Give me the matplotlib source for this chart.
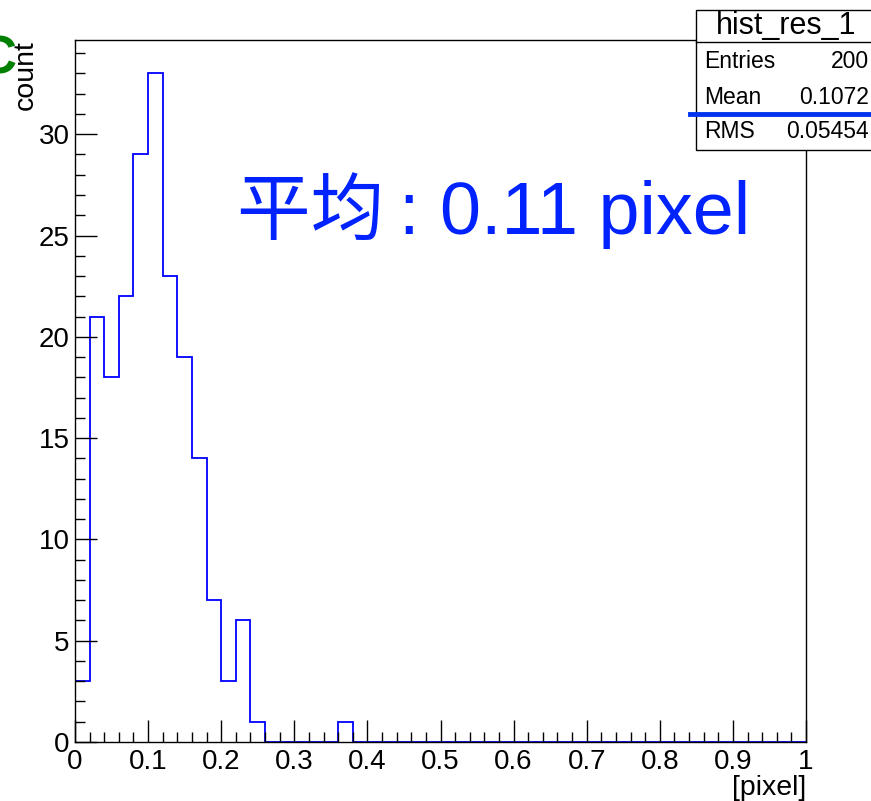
import matplotlib
matplotlib.use("Agg")
import matplotlib.pyplot as plt
import numpy as np
from matplotlib.ticker import MultipleLocator, FuncFormatter

# histogram contents, 50 bins of width 0.02 on [0, 1]
bin_lo = 0.0
bin_hi = 1.0
n_bins = 50
counts = [3, 21, 18, 22, 29, 33, 23, 19, 14, 7, 3, 6, 1, 0, 0, 0, 0, 0, 1] + [0] * 31

hist_name = "hist_res_1"
stat_names = ["Entries", "Mean", "RMS"]
stat_values = ["200", "0.1072", "0.05454"]
note = "平均\u2009: " + "0.11 pixel"

plt.rcParams['font.family'] = ['Liberation Sans', 'Noto Sans CJK SC', 'DejaVu Sans']

fig = plt.figure(figsize=(8.71, 8.01), dpi=100)
ax = fig.add_axes([75/871, 59/801, 731/871, 702/801])

edges = np.linspace(bin_lo, bin_hi, n_bins + 1)
ax.stairs(counts, edges, color='#0000ff', lw=1.3, baseline=0)

ax.set_xlim(0, 1)
ax.set_ylim(0, max(counts) * 1.05)

ax.xaxis.set_major_locator(MultipleLocator(0.1))
ax.xaxis.set_minor_locator(MultipleLocator(0.02))
ax.yaxis.set_major_locator(MultipleLocator(5))
ax.yaxis.set_minor_locator(MultipleLocator(1))
ax.xaxis.set_major_formatter(FuncFormatter(lambda v, p: f"{v:g}"))
ax.tick_params(which='both', direction='in', top=False, right=False, labelsize=20)
ax.tick_params(which='major', length=15.5, width=1)
ax.tick_params(which='minor', length=7.5, width=1)
ax.tick_params(axis='x', pad=5)
ax.tick_params(axis='y', pad=4)
for s in ax.spines.values():
    s.set_linewidth(1)

ax.set_xlabel("[pixel]", loc='right', fontsize=20.5, labelpad=0)
ax.set_ylabel("count", loc='top', fontsize=20.5)
ax.yaxis.set_label_coords(-0.049, 1.0)

ax.text(0.222, 0.757, note, transform=ax.transAxes, fontsize=53,
        color='#0022ff', va='center', ha='left')

# stats box
bx0, by0, bx1, by1 = 696/871, 1 - 150/801, 1.01, 1 - 10/801
box = plt.Rectangle((bx0, by0), bx1 - bx0, by1 - by0, transform=fig.transFigure,
                    facecolor='white', edgecolor='black', lw=1, zorder=5)
fig.patches.append(box)
fig.add_artist(plt.Line2D([bx0, 1], [1 - 42/801] * 2, color='black', lw=1, zorder=6))
fig.text((bx0 + 1) / 2 + 0.003, 1 - 26/801, hist_name, ha='center', va='center', fontsize=22, zorder=7)
rows_y = [62, 97, 132]
for name, val, yy in zip(stat_names, stat_values, rows_y):
    fig.text(704/871, 1 - yy/801, name, ha='left', va='center', fontsize=16.5, zorder=7)
    fig.text(869/871, 1 - yy/801, val, ha='right', va='center', fontsize=16.5, zorder=7)
fig.add_artist(plt.Line2D([690/871, 1], [1 - 114/801] * 2, color='#0033ee', lw=3.5, zorder=8))

fig.text(-21/871, 1 - 60/801, "C", color='#008000', fontsize=38, fontweight='bold',
         ha='left', va='center')

fig.savefig("out.png", dpi=100)
